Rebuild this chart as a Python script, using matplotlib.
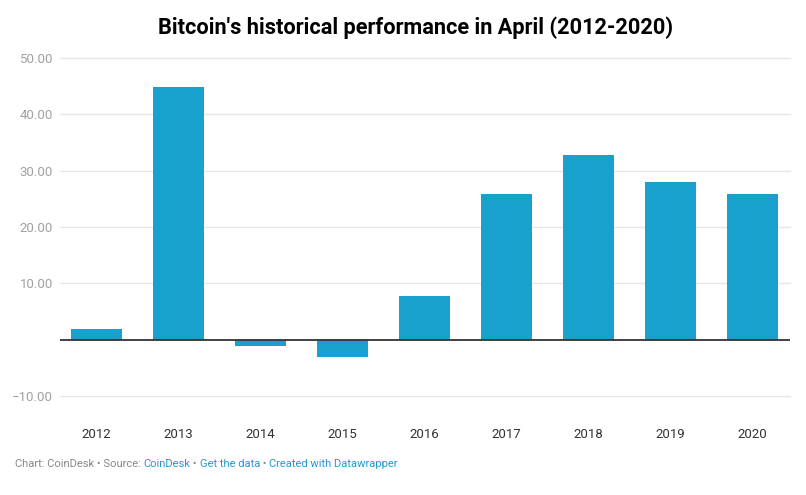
import matplotlib.pyplot as plt
from matplotlib.ticker import FuncFormatter

plt.rcParams['font.family'] = ['Roboto', 'DejaVu Sans']

years = ['2012', '2013', '2014', '2015', '2016', '2017', '2018', '2019', '2020']
returns = [1.95, 44.9, -1.1, -3.1, 7.8, 25.9, 32.8, 27.9, 25.9]
y_ticks = [-10, 10, 20, 30, 40, 50]

fig = plt.figure(figsize=(8.06, 4.95), dpi=100)
ax = fig.add_axes([60/806, 0.2, 730/806, (396-58)/495])

x = range(len(years))
ax.bar(x, returns, width=0.62, color='#18a1cd', zorder=2)
ax.axhline(0, color='#333333', lw=1.3, zorder=3)

ax.set_xlim(-0.445, 8.457)
ax.set_ylim(-10, 50)
ax.set_yticks(y_ticks)
ax.yaxis.set_major_formatter(FuncFormatter(lambda v, p: ('%.2f' % v).replace('-', '\u2212')))
ax.set_xticks(list(x))
ax.set_xticklabels(years)
ax.grid(axis='y', color='#e6e6e6', lw=1, zorder=0)
for gl in ax.get_ygridlines():
    gl.set_clip_on(False)
for s in ax.spines.values():
    s.set_visible(False)
ax.tick_params(axis='y', length=0, pad=5, labelsize=9.5, labelcolor='#a0a0a0')
ax.tick_params(axis='x', length=0, pad=23, labelsize=9.5, labelcolor='#333333')

fig.text(415.5/806, 1 - 28/495, "Bitcoin's historical performance in April (2012-2020)",
         ha='center', va='center', fontsize=15.7, fontweight='bold', color='#000000')

# footer with coloured link parts
parts = [('Chart: CoinDesk \u2022 Source: ', '#888888'), ('CoinDesk', '#1d9bd1'),
         (' \u2022 ', '#888888'), ('Get the data', '#1d9bd1'),
         (' \u2022 ', '#888888'), ('Created with Datawrapper', '#1d9bd1')]
fig.canvas.draw()
r = fig.canvas.get_renderer()
xp = 15
for txt, col in parts:
    t = fig.text(xp/806, 1 - 464/495, txt, ha='left', va='center', fontsize=8, color=col)
    xp = t.get_window_extent(r).x1

fig.savefig('out.png', dpi=100)
